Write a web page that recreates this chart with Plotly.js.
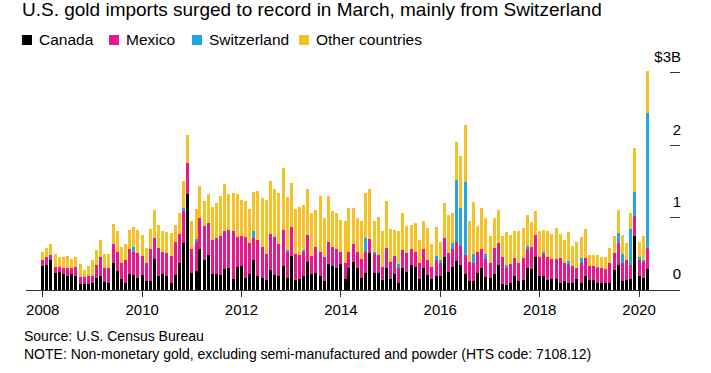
<!DOCTYPE html>
<html>
<head>
<meta charset="utf-8">
<script src="https://cdn.plot.ly/plotly-3.0.1.min.js"></script>
<style>
  html, body { margin: 0; padding: 0; background: #ffffff; }
  #chart { width: 711px; height: 373px; }
</style>
</head>
<body>
<div id="chart"></div>
<script>
// ---- Data (US$ billions, monthly, Jan 2008 - Mar 2020) ----
const seriesNames = ["Canada", "Mexico", "Switzerland", "Other countries"];
const seriesColors = ["#000000", "#e8188c", "#22a6e2", "#f5c124"];

const startYear = 2008, startMonth = 1;
const yearTicks = [2008, 2010, 2012, 2014, 2016, 2018, 2020];
const yTickVals = [0, 1, 2, 3];
const yTickText = ["0", "1", "2", "$3B"];

const canada = [
  .33,.35,.41,.23,.25,.22,.19,.22,.19,.08,.08,.08,
  .09,.17,.19,.11,.10,.38,.26,.15,.10,.22,.21,.16,
  .21,.13,.12,.43,.19,.22,.19,.09,.21,.37,.65,1.32,
  .23,.26,.56,.42,.49,.22,.22,.21,.29,.30,.15,.32,
  .33,.16,.22,.42,.19,.16,.14,.28,.21,.19,.33,.16,
  .47,.14,.15,.19,.39,.22,.24,.19,.13,.36,.33,.31,
  .36,.15,.30,.39,.31,.16,.23,.51,.24,.23,.14,.30,
  .15,.22,.09,.31,.25,.35,.32,.15,.30,.21,.15,.19,
  .19,.46,.25,.32,.40,.35,.22,.12,.12,.24,.30,.18,
  .16,.22,.35,.08,.07,.09,.19,.12,.14,.30,.29,.45,
  .19,.19,.14,.15,.15,.10,.12,.10,.09,.15,.09,.19,
  .14,.14,.10,.10,.10,.10,.28,.35,.12,.14,.15,.75,
  .19,.16,.29
];
const mexico = [
  .08,.11,.08,.09,.07,.09,.12,.08,.13,.10,.10,.11,
  .11,.18,.26,.19,.21,.26,.26,.22,.31,.35,.32,.35,
  .26,.24,.45,.29,.39,.31,.32,.38,.45,.40,.44,.44,
  .33,.40,.44,.47,.43,.47,.50,.53,.52,.53,.67,.41,
  .42,.57,.43,.30,.50,.44,.36,.50,.52,.45,.50,.37,
  .40,.36,.34,.34,.37,.25,.36,.34,.32,.30,.27,.25,
  .17,.22,.23,.24,.22,.27,.29,.19,.26,.26,.18,.28,
  .24,.25,.21,.24,.26,.21,.20,.22,.26,.21,.17,.23,
  .19,.26,.26,.24,.27,.26,.26,.27,.26,.29,.26,.25,
  .22,.36,.30,.38,.24,.27,.25,.25,.30,.26,.31,.31,
  .27,.31,.32,.28,.28,.34,.25,.26,.24,.16,.28,.25,
  .19,.19,.20,.20,.19,.27,.23,.30,.25,.28,.20,.27,
  .23,.23,.29
];
const switzerland = [
  0,0,0,0,0,0,0,0,0,0,0,0,
  0,0,0,0,0,0,0,0,0,0,.06,0,
  0,0,0,0,0,0,0,0,0,0,.04,0,
  0,.04,0,0,0,0,0,0,0,0,0,0,
  0,0,0,.09,0,0,0,0,0,0,0,.02,
  0,0,0,.02,0,0,0,0,0,0,0,0,
  0,0,0,0,0,0,.20,0,.02,0,0,0,
  0,0,.06,0,0,0,0,0,0,0,0,.05,
  .03,0,0,.09,.85,.52,1.01,0,.12,0,0,.07,
  0,0,0,0,.03,0,0,0,0,.05,0,0,
  0,.03,0,0,0,0,0,.04,0,0,.07,0,
  0,0,.02,0,0,0,0,.14,.13,0,.50,.34,
  .03,.03,1.87
];
const otherCountries = [
  .12,.12,.14,.18,.14,.14,.16,.13,.14,.18,.10,.14,
  .21,.20,.24,.20,.19,.27,.30,.23,.22,.26,.28,.32,
  .29,.21,.28,.39,.32,.28,.29,.32,.24,.29,.37,.38,
  .39,.42,.44,.34,.40,.46,.48,.56,.66,.50,.52,.59,
  .49,.50,.47,.54,.68,.67,.75,.72,.67,.70,.86,.73,
  .61,.62,.66,.62,.64,.60,.51,.77,.55,.64,.49,.51,
  .44,.59,.60,.50,.47,.52,.62,.69,.44,.52,.49,.65,
  .45,.36,.45,.51,.37,.34,.40,.32,.39,.44,.31,.40,
  .26,.48,.52,.41,.53,.72,.79,.57,.72,.36,.58,.50,
  .37,.42,.46,.28,.46,.40,.37,.44,.42,.42,.34,.33,
  .35,.30,.36,.35,.43,.34,.32,.40,.28,.35,.29,.40,
  .16,.16,.17,.15,.17,.21,.24,.32,.26,.23,.21,.60,
  .22,.33,.57
];

// month labels (category dates)
const months = [];
for (let i = 0; i < canada.length; i++) {
  const y = startYear + Math.floor((startMonth - 1 + i) / 12);
  const m = (startMonth - 1 + i) % 12 + 1;
  months.push(y + "-" + String(m).padStart(2, "0") + "-01");
}
const seriesValues = [canada, mexico, switzerland, otherCountries];

// ---- Layout geometry ----
const W = 711, H = 373;
const M = { l: 26, r: 31, t: 44, b: 83 };
const plotW = W - M.l - M.r, plotH = H - M.t - M.b;
const px = x => (x - M.l) / plotW;
const py = y => (H - M.b - y) / plotH;

const FONT = "'Liberation Sans', Arial, sans-serif";
const DAY = 86400000;

const traces = seriesNames.map((name, k) => ({
  type: "bar",
  name: name,
  x: months,
  y: seriesValues[k],
  width: 22 * DAY,
  marker: { color: seriesColors[k], line: { width: 0 } },
  hoverinfo: "x+y+name"
}));

// manual legend
const legendX = [22, 109, 192, 299];
const shapes = [];
const annotations = [];
seriesNames.forEach((name, k) => {
  const x0 = legendX[k];
  shapes.push({
    type: "rect", xref: "paper", yref: "paper",
    x0: px(x0), x1: px(x0 + 10), y0: py(45), y1: py(35),
    fillcolor: seriesColors[k], line: { width: 0 }
  });
  annotations.push({
    text: name, xref: "paper", yref: "paper",
    x: px(x0 + 15), y: py(40), xanchor: "left", yanchor: "middle",
    showarrow: false, font: { family: FONT, size: 15.5, color: "#000" }
  });
});
annotations.push({
  text: "Source: U.S. Census Bureau", xref: "paper", yref: "paper",
  x: px(22), y: py(336), xanchor: "left", yanchor: "middle",
  showarrow: false, font: { family: FONT, size: 14, color: "#000" }
});
annotations.push({
  text: "NOTE: Non-monetary gold, excluding semi-manufactured and powder (HTS code: 7108.12)",
  xref: "paper", yref: "paper",
  x: px(22), y: py(354), xanchor: "left", yanchor: "middle",
  showarrow: false, font: { family: FONT, size: 14, color: "#000" }
});

const layout = {
  width: W, height: H,
  margin: M,
  paper_bgcolor: "#ffffff", plot_bgcolor: "rgba(0,0,0,0)",
  barmode: "stack",
  showlegend: false,
  font: { family: FONT, color: "#000" },
  title: {
    text: "U.S. gold imports surged to record in March, mainly from Switzerland",
    xref: "container", yref: "container",
    x: 22 / W, xanchor: "left",
    y: 1 - 3 / H, yanchor: "top",
    font: { family: FONT, size: 19, color: "#000" },
    pad: { t: 0, l: 0 }
  },
  xaxis: {
    type: "date",
    range: ["2007-08-31", "2020-10-28"],
    tickvals: yearTicks.map(y => y + "-01-01"),
    ticktext: yearTicks.map(String),
    ticks: "outside", ticklen: 6, tickcolor: "#333", tickwidth: 1,
    showline: true, linecolor: "#333", linewidth: 1,
    showgrid: false, zeroline: false,
    tickfont: { family: FONT, size: 15, color: "#000" }
  },
  yaxis: {
    range: [0, 3.4],
    side: "right",
    tickvals: yTickVals, ticktext: yTickText,
    ticks: "inside", ticklen: 10, tickcolor: "#333", tickwidth: 1,
    ticklabelposition: "inside top",
    ticklabelstandoff: -4,
    ticklabelshift: -5,
    showline: false, showgrid: false, zeroline: false,
    tickfont: { family: FONT, size: 15, color: "#000" }
  },
  shapes: shapes,
  annotations: annotations
};

Plotly.newPlot("chart", traces, layout, { displayModeBar: false, staticPlot: true });
</script>
</body>
</html>
